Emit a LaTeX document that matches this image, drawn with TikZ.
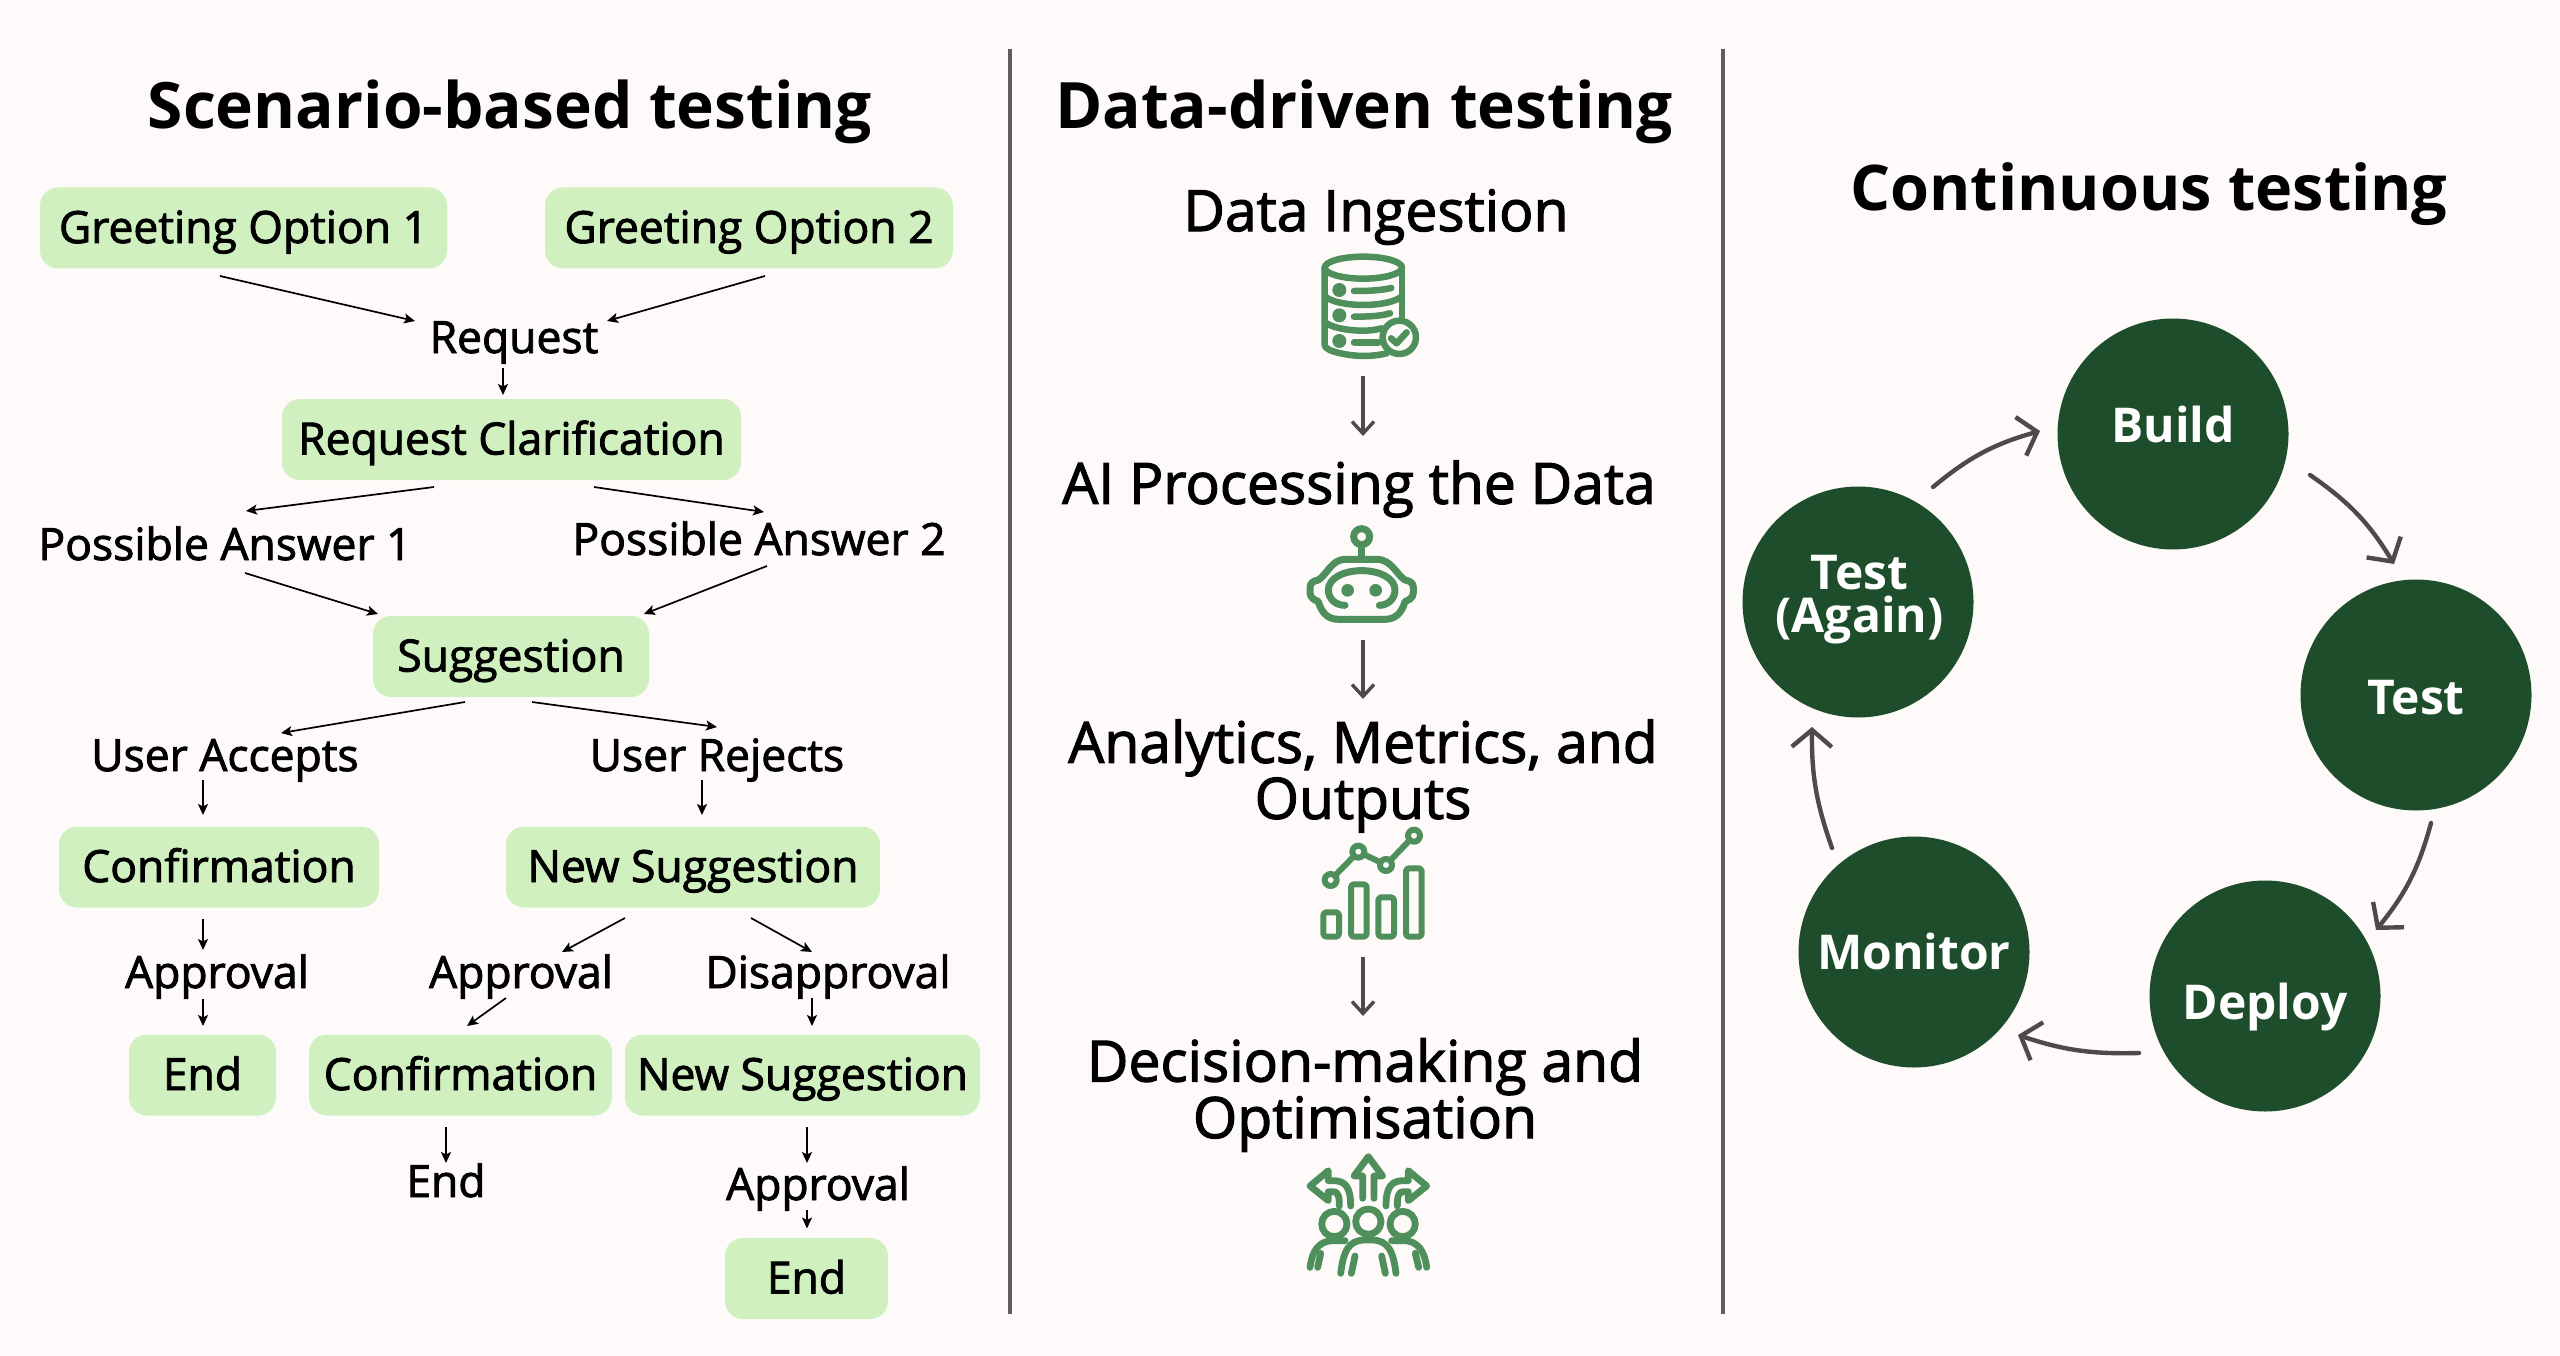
\documentclass[tikz,border=0pt]{standalone}
\usepackage{fontspec}
\setmainfont{Open Sans}
\newfontfamily\medf{Open Sans}[FakeBold=2]
\usetikzlibrary{arrows.meta}
\definecolor{bgc}{HTML}{FDFAF9}
\definecolor{boxc}{HTML}{D0F0C0}
\definecolor{darkg}{HTML}{1E4D2B}
\definecolor{icong}{HTML}{4F8F5B}
\definecolor{greyc}{HTML}{4D4A4B}
\tikzset{
  x=1pt,y=-1pt,
  flowbox/.style={fill=boxc,rounded corners=18pt,inner sep=0pt,font=\medf\fontsize{44.4}{50}\selectfont,text height=36.5pt,text depth=6.5pt},
  flowlab/.style={inner sep=0pt,font=\medf\fontsize{44.4}{50}\selectfont,text height=36.5pt,text depth=6.5pt},
  flowarr/.style={-{Stealth[length=11pt,width=10pt,inset=2.5pt]},line width=1.7pt,black},
  titletext/.style={inner sep=0pt,font=\bfseries\fontsize{64}{70}\selectfont},
  datatext/.style={inner sep=0pt,align=center,font=\medf\fontsize{57}{53}\selectfont},
  downarr/.style={-{Straight Barb[length=12pt,width=22pt]},line width=3.4pt,greyc},
  circ/.style={circle,fill=darkg,minimum size=231pt,inner sep=0pt},
  circlab/.style={inner sep=0pt,text=white,align=center,font=\bfseries\fontsize{48}{43}\selectfont},
  cycarr/.style={-{Straight Barb[length=17pt,width=40pt]},line width=4.4pt,greyc,line cap=round,line join=round},
  divider/.style={line width=3.5pt,draw=greyc!90!white},
  icon/.style={draw=icong,line cap=round,line join=round,fill=none},
}
\begin{document}
\begin{tikzpicture}
\useasboundingbox (0,0) rectangle (2560,1356);
\fill[bgc] (0,0) rectangle (2560,1356);

% dividers
\coordinate (d1a) at (1010,49); \coordinate (d1b) at (1010,1314);
\coordinate (d2a) at (1723,49); \coordinate (d2b) at (1723,1314);
\draw[divider] (d1a) -- (d1b);
\draw[divider] (d2a) -- (d2b);

% titles
\node[titletext] (t1) at (510,112) {Scenario-based testing};
\node[titletext] (t2) at (1364,112) {Data-driven testing};
\node[titletext,font=\bfseries\fontsize{63}{70}\selectfont] (t3) at (2149,194) {Continuous testing};

% flow boxes
\node[flowbox,minimum width=407pt,minimum height=81pt] (g1) at (243.5,228) {Greeting Option 1};
\node[flowbox,minimum width=408pt,minimum height=81pt] (g2) at (749,228) {Greeting Option 2};
\node[flowlab] (req) at (514,338) {Request};
\node[flowbox,minimum width=459pt,minimum height=81pt] (rc) at (511.5,439.5) {Request Clarification};
\node[flowlab] (pa1) at (225,545) {Possible Answer 1};
\node[flowlab] (pa2) at (759,540) {Possible Answer 2};
\node[flowbox,minimum width=276pt,minimum height=81pt] (sug) at (511,656.5) {Suggestion};
\node[flowlab] (ua) at (225,756) {User Accepts};
\node[flowlab] (ur) at (717,756) {User Rejects};
\node[flowbox,minimum width=320pt,minimum height=81pt] (conf) at (219,867) {Confirmation};
\node[flowbox,minimum width=374pt,minimum height=81pt] (ns) at (693,867) {New Suggestion};
\node[flowlab] (ap1) at (217,973) {Approval};
\node[flowlab] (ap2) at (521,973) {Approval};
\node[flowlab] (dis) at (828,973) {Disapproval};
\node[flowbox,minimum width=147pt,minimum height=81pt] (end1) at (202.5,1075) {End};
\node[flowbox,minimum width=303pt,minimum height=81pt] (conf2) at (460.5,1075) {Confirmation};
\node[flowbox,minimum width=355pt,minimum height=81pt] (ns2) at (802.5,1075) {New Suggestion};
\node[flowlab] (end2) at (446,1182) {End};
\node[flowlab] (ap3) at (818,1185) {Approval};
\node[flowbox,minimum width=163pt,minimum height=81pt] (end3) at (806.5,1278.5) {End};

% flow connectors (offsets from node centres)
\draw[flowarr] ([shift={(-23.5,48)}]g1.center) -- ([shift={(-99,-17)}]req.center);
\draw[flowarr] ([shift={(16,48)}]g2.center) -- ([shift={(93,-17)}]req.center);
\draw[flowarr] ([shift={(-11,30)}]req.center) -- ([shift={(-8.5,-44.5)}]rc.center);
\draw[flowarr] ([shift={(-77.5,47.5)}]rc.center) -- ([shift={(21,-34)}]pa1.center);
\draw[flowarr] ([shift={(82.5,47.5)}]rc.center) -- ([shift={(5,-28)}]pa2.center);
\draw[flowarr] ([shift={(20,28)}]pa1.center) -- ([shift={(-133,-42.5)}]sug.center);
\draw[flowarr] ([shift={(8,26)}]pa2.center) -- ([shift={(133,-42.5)}]sug.center);
\draw[flowarr] ([shift={(-46,45.5)}]sug.center) -- ([shift={(56,-23)}]ua.center);
\draw[flowarr] ([shift={(21,45.5)}]sug.center) -- ([shift={(0,-29)}]ur.center);
\draw[flowarr] ([shift={(-22,24)}]ua.center) -- ([shift={(-16,-52)}]conf.center);
\draw[flowarr] ([shift={(-15,24)}]ur.center) -- ([shift={(9,-52)}]ns.center);
\draw[flowarr] ([shift={(-16,52)}]conf.center) -- ([shift={(-14,-23)}]ap1.center);
\draw[flowarr] ([shift={(-14,26)}]ap1.center) -- ([shift={(0.5,-49)}]end1.center);
\draw[flowarr] ([shift={(-68,51)}]ns.center) -- ([shift={(41,-21)}]ap2.center);
\draw[flowarr] ([shift={(58,51)}]ns.center) -- ([shift={(-16,-21)}]dis.center);
\draw[flowarr] ([shift={(-15,25)}]ap2.center) -- ([shift={(6.5,-49)}]conf2.center);
\draw[flowarr] ([shift={(-16,25)}]dis.center) -- ([shift={(9.5,-49)}]ns2.center);
\draw[flowarr] ([shift={(-14.5,52)}]conf2.center) -- ([shift={(0,-19)}]end2.center);
\draw[flowarr] ([shift={(4.5,52)}]ns2.center) -- ([shift={(-11,-22)}]ap3.center);
\draw[flowarr] ([shift={(-11,25)}]ap3.center) -- ([shift={(0.5,-50)}]end3.center);

% data column
\node[datatext] (di) at (1376,217) {Data Ingestion};
\node[datatext] (ai) at (1359,489) {AI Processing the Data};
\node[datatext] (am) at (1363,776) {Analytics, Metrics, and\\Outputs};
\node[datatext] (dm) at (1365,1095) {Decision-making and\\Optimisation};
\coordinate (ic1b) at (1363,376); \coordinate (ic2t) at (1363,436);
\coordinate (ic3b) at (1363,640); \coordinate (ic4t) at (1363,699);
\coordinate (ic5b) at (1363,957); \coordinate (ic6t) at (1363,1016);
\draw[downarr] (ic1b) -- (ic2t);
\draw[downarr] (ic3b) -- (ic4t);
\draw[downarr] (ic5b) -- (ic6t);

% database icon
\begin{scope}[shift={(1250,200)},x=0.3333pt,y=-0.3333pt,line width=6.5pt]
\draw[icon] (340,203) ellipse [x radius=116,y radius=33];
\draw[icon] (224,203) -- (224,435) .. controls (224,455) and (300,468) .. (340,468) .. controls (360,468) and (385,466) .. (410,460);
\draw[icon] (456,203) -- (456,350);
\draw[icon] (224,288) .. controls (240,305) and (290,315) .. (340,315) .. controls (390,315) and (440,305) .. (456,288);
\draw[icon] (224,365) .. controls (240,382) and (290,392) .. (340,392) .. controls (360,392) and (375,390) .. (395,385);
\fill[icong] (268,270) circle (21);
\fill[icong] (268,346) circle (21);
\fill[icong] (268,423) circle (21);
\draw[icon] (312,273) .. controls (350,273) and (390,272) .. (424,264);
\draw[icon] (312,350) .. controls (350,350) and (390,349) .. (420,340);
\draw[icon] (312,427) -- (385,427);
\draw[icon,fill=bgc] (448,412) circle (50);
\draw[icon] (423,415) -- (440,430) -- (470,397);
\end{scope}

% robot icon
\begin{scope}[shift={(1260,500)},x=0.3333pt,y=-0.3333pt,line width=7pt]
\draw[icon] (305,110) circle (24);
\draw[icon,line width=7pt] (305,138) -- (305,178);
\draw[icon] (255,178) -- (350,178) .. controls (395,178) and (410,225) .. (435,240) .. controls (450,242) and (460,250) .. (460,262) -- (460,278) .. controls (460,295) and (445,300) .. (435,305) .. controls (425,340) and (405,358) .. (375,358) -- (235,358) .. controls (205,358) and (185,340) .. (175,305) .. controls (165,300) and (150,295) .. (150,278) -- (150,262) .. controls (150,250) and (160,242) .. (175,240) .. controls (200,225) and (215,178) .. (255,178) -- cycle;
\draw[icon] (255,316) .. controls (225,316) and (205,295) .. (205,270) .. controls (205,235) and (250,212) .. (305,212) .. controls (360,212) and (405,235) .. (405,270) .. controls (405,295) and (385,316) .. (358,316);
\fill[icong] (263,271) circle (19);
\fill[icong] (347,271) circle (19);
\end{scope}

% chart icon
\begin{scope}[shift={(1290,810)},x=0.3333pt,y=-0.3333pt,line width=6pt]
\draw[icon,rounded corners=3pt] (100,307) rectangle (147,380);
\draw[icon,rounded corners=3pt] (183,223) rectangle (230,380);
\draw[icon,rounded corners=3pt] (265,262) rectangle (312,380);
\draw[icon,rounded corners=3pt] (348,175) rectangle (395,380);
\draw[icon] (122,210) -- (205,125) -- (288,165) -- (372,77);
\draw[icon,fill=bgc] (122,210) circle (18);
\draw[icon,fill=bgc] (205,125) circle (18);
\draw[icon,fill=bgc] (288,165) circle (18);
\draw[icon,fill=bgc] (372,77) circle (18);
\end{scope}

% decision icon
\begin{scope}[shift={(1290,1150)},x=0.3333pt,y=-0.3333pt,line width=6.8pt]
\draw[icon] (218,145) -- (218,78) -- (192,78) -- (235,20) -- (278,78) -- (252,78) -- (252,145);
\draw[icon] (182,168) .. controls (182,110) and (165,92) .. (130,92) -- (115,92) -- (115,62) -- (60,108) -- (115,152) -- (115,125) -- (130,125) .. controls (145,125) and (148,140) .. (148,168);
\draw[icon] (288,168) .. controls (288,110) and (305,92) .. (340,92) -- (355,92) -- (355,62) -- (410,108) -- (355,152) -- (355,125) -- (340,125) .. controls (325,125) and (322,140) .. (322,168);
\draw[icon] (133,222) circle (38);
\draw[icon] (235,215) circle (38);
\draw[icon] (338,222) circle (38);
\draw[icon] (60,352) .. controls (66,305) and (85,272) .. (130,272) -- (165,272);
\draw[icon] (410,352) .. controls (404,305) and (385,272) .. (340,272) -- (305,272);
\draw[icon] (152,370) .. controls (160,305) and (175,270) .. (225,270) -- (245,270) .. controls (295,270) and (310,305) .. (318,370);
\draw[icon] (92,310) -- (83,352);
\draw[icon] (195,318) -- (184,370);
\draw[icon] (275,318) -- (286,370);
\draw[icon] (376,310) -- (386,352);
\end{scope}

% cycle
\node[circ] (build) at (2173,434) {};
\node[circ] (test) at (2416,695) {};
\node[circ] (deploy) at (2265,996) {};
\node[circ] (monitor) at (1914,952) {};
\node[circ] (again) at (1858,602) {};
\node[circlab] (buildl) at (2173,424) {Build};
\node[circlab] (testl) at (2416,698) {Test};
\node[circlab] (deployl) at (2265,1007) {Deploy};
\node[circlab] (monitorl) at (1914,951) {Monitor};
\node[circlab] (againl) at (1859.5,600) {Test\\(Again)};
\draw[cycarr] ([shift={(75,-115)}]again.center) to[bend left=12] ([shift={(-133,-3)}]build.center);
\draw[cycarr] ([shift={(137,41)}]build.center) to[bend left=12] ([shift={(-22,-131)}]test.center);
\draw[cycarr] ([shift={(15,128)}]test.center) to[bend left=12] ([shift={(111,-66)}]deploy.center);
\draw[cycarr] ([shift={(-126,57)}]deploy.center) to[bend left=10] ([shift={(104,83)}]monitor.center);
\draw[cycarr] ([shift={(-82,-104)}]monitor.center) to[bend left=10] ([shift={(-46,125)}]again.center);
\end{tikzpicture}
\end{document}
